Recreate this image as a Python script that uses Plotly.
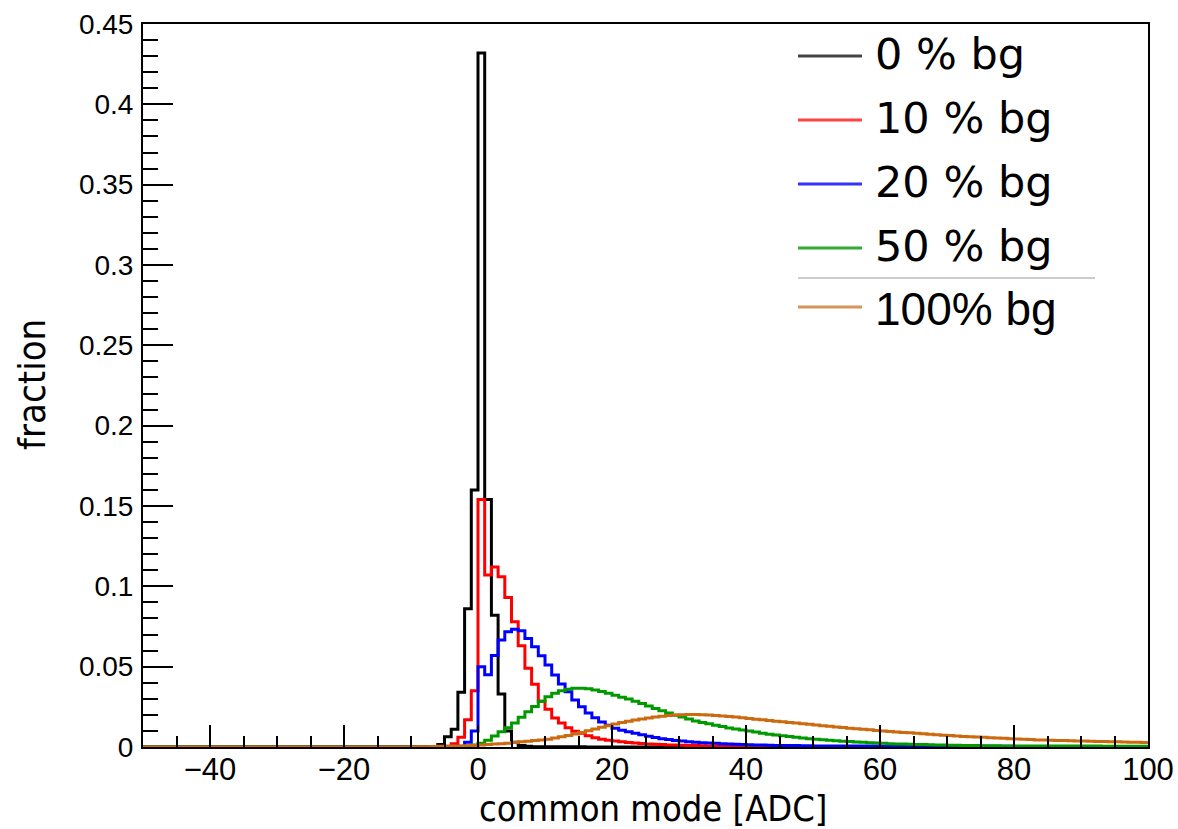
import numpy as np
import plotly.graph_objects as go

# bin low edges (1 ADC wide bins from -50 to 100)
bin_low = np.arange(-50, 100)
x_max = 100

# ---- values per bin (fraction), bins -50 .. 99 ----
bg0 = [
    0, 0, 0, 0, 0, 0, 0, 0, 0, 0,                                   # -50..-41
    0, 0, 0, 0, 0, 0, 0, 0, 0, 0,                                   # -40..-31
    0, 0, 0, 0, 0, 0, 0, 0, 0, 0,                                   # -30..-21
    0, 0, 0, 0, 0, 0, 0, 0, 0, 0,                                   # -20..-11
    0, 0, 0, 0.0003, 0.0015, 0.0064, 0.011, 0.034, 0.086, 0.160,    # -10..-1
    0.432, 0.154, 0.082, 0.033, 0.010, 0.003, 0.001, 0.0004, 0.0002, 0.0002,  # 0..9
    0.0001, 0.0001, 0.0001, 0.0001, 0.0001, 0.0001, 0, 0, 0, 0,     # 10..19
    0, 0, 0, 0, 0, 0, 0, 0, 0, 0,
    0, 0, 0, 0, 0, 0, 0, 0, 0, 0,
    0, 0, 0, 0, 0, 0, 0, 0, 0, 0,
    0, 0, 0, 0, 0, 0, 0, 0, 0, 0,
    0, 0, 0, 0, 0, 0, 0, 0, 0, 0,
    0, 0, 0, 0, 0, 0, 0, 0, 0, 0,
    0, 0, 0, 0, 0, 0, 0, 0, 0, 0,
    0, 0, 0, 0, 0, 0, 0, 0, 0, 0,
]

bg10 = [
    0, 0, 0, 0, 0, 0, 0, 0, 0, 0,
    0, 0, 0, 0, 0, 0, 0, 0, 0, 0,
    0, 0, 0, 0, 0, 0, 0, 0, 0, 0,
    0, 0, 0, 0, 0, 0, 0, 0, 0, 0,
    0, 0, 0, 0, 0, 0.0005, 0.002, 0.006, 0.017, 0.035,
    0.154, 0.107, 0.112, 0.106, 0.093, 0.078, 0.063, 0.049, 0.039, 0.0285,
    0.0235, 0.018, 0.015, 0.012, 0.0098, 0.0085, 0.007, 0.0058, 0.0049, 0.0042,
    0.0037, 0.0032, 0.0028, 0.0025, 0.0022, 0.0019, 0.0017, 0.0015, 0.0013, 0.0012,
    0.0011, 0.0010, 0.0009, 0.0008, 0.0007, 0.0006, 0.0006, 0.0005, 0.0005, 0.0004,
    0.0004, 0.0003, 0.0003, 0.0003, 0.0003, 0.0003, 0.0002, 0.0002, 0.0002, 0.0002,
    0.0002, 0.0002, 0.0002, 0.0002, 0.0002, 0.0002, 0.0001, 0.0001, 0.0001, 0.0001,
    0.0001, 0.0001, 0.0001, 0.0001, 0.0001, 0.0001, 0.0001, 0.0001, 0.0001, 0.0001,
    0.0001, 0.0001, 0.0001, 0.0001, 0.0001, 0, 0, 0, 0, 0,
    0, 0, 0, 0, 0, 0, 0, 0, 0, 0,
    0, 0, 0, 0, 0, 0, 0, 0, 0, 0,
]

bg20 = [
    0, 0, 0, 0, 0, 0, 0, 0, 0, 0,
    0, 0, 0, 0, 0, 0, 0, 0, 0, 0,
    0, 0, 0, 0, 0, 0, 0, 0, 0, 0,
    0, 0, 0, 0, 0, 0, 0, 0, 0, 0,
    0, 0, 0, 0, 0, 0, 0, 0.0005, 0.003, 0.010,
    0.050, 0.045, 0.057, 0.0666, 0.0718, 0.0733, 0.0724, 0.0676, 0.0624, 0.0568,
    0.051, 0.0448, 0.0392, 0.0344, 0.0292, 0.0250, 0.0212, 0.0182, 0.0156, 0.0135,
    0.0117, 0.0105, 0.0095, 0.0086, 0.0076, 0.0067, 0.0059, 0.0052, 0.0046, 0.0041,
    0.0037, 0.0033, 0.0030, 0.0027, 0.0025, 0.0023, 0.0021, 0.0019, 0.0017, 0.0016,
    0.0014, 0.0013, 0.0012, 0.0011, 0.0010, 0.0010, 0.0009, 0.0009, 0.0008, 0.0008,
    0.0007, 0.0007, 0.0007, 0.0007, 0.0007, 0.0006, 0.0006, 0.0006, 0.0006, 0.0006,
    0.0005, 0.0005, 0.0005, 0.0005, 0.0005, 0.0005, 0.0005, 0.0005, 0.0005, 0.0005,
    0.0004, 0.0004, 0.0004, 0.0004, 0.0004, 0.0004, 0.0004, 0.0004, 0.0004, 0.0004,
    0.0003, 0.0003, 0.0003, 0.0003, 0.0003, 0.0003, 0.0003, 0.0003, 0.0003, 0.0003,
    0.0003, 0.0003, 0.0003, 0.0003, 0.0003, 0.0003, 0.0003, 0.0003, 0.0003, 0.0003,
]

bg50 = [
    0, 0, 0, 0, 0, 0, 0, 0, 0, 0,
    0, 0, 0, 0, 0, 0, 0, 0, 0, 0,
    0, 0, 0, 0, 0, 0, 0, 0, 0, 0,
    0, 0, 0, 0, 0, 0, 0, 0, 0, 0,
    0, 0, 0, 0, 0, 0.0001, 0.0002, 0.0003, 0.0006, 0.0012,
    0.0023, 0.0042, 0.0068, 0.0095, 0.0120, 0.0150, 0.0185, 0.0220, 0.0252, 0.0284,
    0.0312, 0.0334, 0.0350, 0.0360, 0.0365, 0.0366, 0.0362, 0.0355, 0.0346, 0.0334,
    0.0322, 0.0310, 0.0298, 0.0285, 0.0270, 0.0255, 0.0240, 0.0226, 0.0212, 0.0198,
    0.0186, 0.0174, 0.0162, 0.0152, 0.0144, 0.0135, 0.0127, 0.0119, 0.0112, 0.0106,
    0.0100, 0.0093, 0.0086, 0.0080, 0.0075, 0.0070, 0.0065, 0.0060, 0.0056, 0.0052,
    0.0048, 0.0045, 0.0042, 0.0039, 0.0036, 0.0034, 0.0031, 0.0029, 0.0027, 0.0025,
    0.0023, 0.0021, 0.0019, 0.0018, 0.0017, 0.0016, 0.0015, 0.0014, 0.0013, 0.0012,
    0.0011, 0.0011, 0.0010, 0.0009, 0.0009, 0.0008, 0.0008, 0.0008, 0.0007, 0.0007,
    0.0007, 0.0007, 0.0006, 0.0006, 0.0006, 0.0006, 0.0006, 0.0006, 0.0006, 0.0006,
    0.0006, 0.0006, 0.0006, 0.0005, 0.0005, 0.0005, 0.0005, 0.0005, 0.0005, 0.0005,
]

bg100 = [
    0, 0, 0, 0, 0, 0, 0, 0, 0, 0,
    0, 0, 0, 0, 0, 0, 0, 0, 0, 0,
    0, 0, 0, 0, 0, 0, 0, 0, 0, 0,
    0, 0, 0, 0, 0, 0, 0, 0, 0, 0,
    0.0001, 0.0001, 0.0002, 0.0003, 0.0004, 0.0005, 0.0006, 0.0007, 0.0008, 0.0010,
    0.0012, 0.0015, 0.0018, 0.0021, 0.0024, 0.0028, 0.0032, 0.0036, 0.0040, 0.0044,
    0.0048, 0.0056, 0.0064, 0.0072, 0.0081, 0.0090, 0.0101, 0.0112, 0.0123, 0.0133,
    0.0143, 0.0152, 0.0160, 0.0168, 0.0175, 0.0181, 0.0187, 0.0192, 0.0196, 0.0199,
    0.0201, 0.0202, 0.0202, 0.0201, 0.0199, 0.0196, 0.0193, 0.0190, 0.0186, 0.0182,
    0.0177, 0.0173, 0.0169, 0.0165, 0.0161, 0.0157, 0.0153, 0.0149, 0.0145, 0.0141,
    0.0137, 0.0133, 0.0129, 0.0125, 0.0121, 0.0117, 0.0114, 0.0110, 0.0107, 0.0103,
    0.0100, 0.0097, 0.0094, 0.0091, 0.0088, 0.0085, 0.0082, 0.0079, 0.0076, 0.0073,
    0.0071, 0.0068, 0.0066, 0.0064, 0.0062, 0.0060, 0.0058, 0.0056, 0.0054, 0.0052,
    0.0050, 0.0048, 0.0046, 0.0044, 0.0043, 0.0042, 0.0041, 0.0040, 0.0039, 0.0038,
    0.0037, 0.0036, 0.0035, 0.0034, 0.0033, 0.0032, 0.0031, 0.0030, 0.0029, 0.0028,
]

series_names = ["0 % bg", "10 % bg", "20 % bg", "50 % bg", "100% bg"]
series_values = [bg0, bg10, bg20, bg50, bg100]
series_colors = ["#000000", "#ff0000", "#0000ff", "#009900", "#cc6a10"]
legend_colors = ["#444444", "#ff4444", "#3333ff", "#33aa33", "#d8955a"]

x_ticks = [-40, -20, 0, 20, 40, 60, 80, 100]
y_ticks = [0, 0.05, 0.1, 0.15, 0.2, 0.25, 0.3, 0.35, 0.4, 0.45]

fig = go.Figure()
edges = list(bin_low) + [x_max]
for name, vals, col in zip(series_names, series_values, series_colors):
    fig.add_trace(go.Scatter(
        x=edges, y=list(vals) + [vals[-1]], mode="lines",
        line=dict(color=col, width=3, shape="hv"), name=name,
        showlegend=False, cliponaxis=True,
    ))

narrow = "Liberation Sans Narrow, DejaVu Sans Condensed, Liberation Sans, Arial"
helv = "Liberation Sans, Arial, Helvetica"

fig.update_layout(
    width=1178, height=829,
    margin=dict(l=143, r=30, t=24, b=82, autoexpand=False),
    paper_bgcolor="white", plot_bgcolor="white",
    showlegend=False,
    xaxis=dict(
        range=[-50, 100.0005], tickvals=x_ticks, ticks="inside", ticklen=22,
        tickwidth=2, tickcolor="black", showline=True, linecolor="black",
        linewidth=2, mirror=True, showgrid=False, zeroline=False,
        automargin=False,
        tickfont=dict(family=helv, size=31, color="black"),
        minor=dict(dtick=5, ticks="inside", ticklen=11, tickwidth=2,
                   tickcolor="black", showgrid=False),
        ticklabelstandoff=-6,
    ),
    yaxis=dict(
        range=[0, 0.45], tickvals=y_ticks, ticks="inside", ticklen=30,
        tickwidth=2, tickcolor="black", showline=True, linecolor="black",
        linewidth=2, mirror=True, showgrid=False, zeroline=False,
        automargin=False,
        tickfont=dict(family=helv, size=28, color="black"),
        minor=dict(dtick=0.01, ticks="inside", ticklen=15, tickwidth=2,
                   tickcolor="black", showgrid=False),
        ticklabelstandoff=2,
    ),
)

def px_to_paper_x(px):
    return (px - 143) / 1005.0

def py_to_paper_y(py):
    return (747 - py) / 723.0

# axis titles
fig.add_annotation(text="common mode [ADC]", xref="paper", yref="paper",
                   x=px_to_paper_x(653), y=py_to_paper_y(808),
                   xanchor="center", yanchor="middle", showarrow=False,
                   font=dict(family=narrow, size=36, color="black"))
fig.add_annotation(text="fraction", xref="paper", yref="paper",
                   x=px_to_paper_x(32), y=py_to_paper_y(385), textangle=-90,
                   xanchor="center", yanchor="middle", showarrow=False,
                   font=dict(family=narrow, size=38, color="black"))

# legend (drawn manually to mimic ROOT legend)
leg_line_y = [56, 120, 184, 248, 307]
leg_text_y = [54, 118, 182, 246, 309]
leg_font = [dict(family="DejaVu Sans", size=43, color="black")] * 4 + \
           [dict(family=helv, size=46, color="black")]
for name, col, ly, ty, fnt in zip(series_names, legend_colors, leg_line_y,
                                  leg_text_y, leg_font):
    fig.add_shape(type="line", xref="paper", yref="paper",
                  x0=px_to_paper_x(798), x1=px_to_paper_x(862),
                  y0=py_to_paper_y(ly), y1=py_to_paper_y(ly),
                  line=dict(color=col, width=3))
    fig.add_annotation(text=name, xref="paper", yref="paper",
                       x=px_to_paper_x(873), y=py_to_paper_y(ty),
                       xanchor="left", yanchor="middle", showarrow=False,
                       font=fnt)
fig.add_shape(type="line", xref="paper", yref="paper",
              x0=px_to_paper_x(798), x1=px_to_paper_x(1095),
              y0=py_to_paper_y(278), y1=py_to_paper_y(278),
              line=dict(color="#cccccc", width=2))

fig.write_html("out.html")
